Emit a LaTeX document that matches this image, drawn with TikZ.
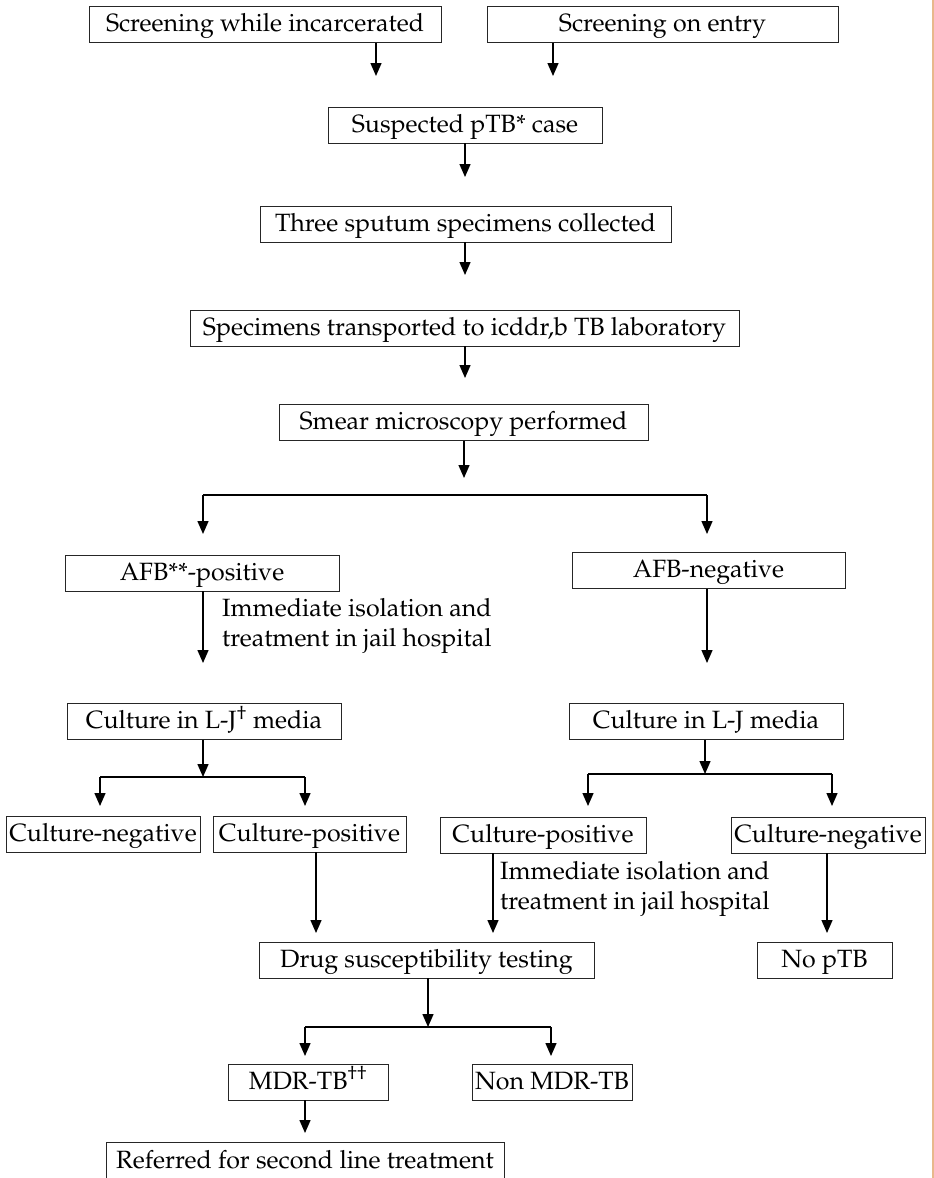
\documentclass[tikz,border=0pt]{standalone}
\usepackage[T1]{fontenc}
\usepackage{mathpazo}
\usetikzlibrary{arrows.meta}
\definecolor{edge}{RGB}{232,184,140}
\begin{document}
\begin{tikzpicture}[x=1pt,y=-1pt,
  box/.style={draw=black!85, line width=0.9pt, inner sep=0pt, minimum height=36pt, text height=18pt, text depth=4pt, font=\fontsize{25}{30}\selectfont},
  arr/.style={line width=1.4pt, -{Triangle[width=11pt,length=13pt]}},
  ln/.style={line width=1.4pt},
  lbl/.style={align=left, anchor=west, inner sep=0pt, font=\fontsize{25}{30}\selectfont}]
\useasboundingbox (0,0) rectangle (934,1178);
\fill[white] (0,0) rectangle (934,1178);
\draw[edge, line width=1.5pt] (933,0) -- (933,1178);

% nodes
\node[box, minimum width=352pt] (inc) at (265,24.5) {Screening while incarcerated};
\node[box, minimum width=351pt] (entry) at (662.5,24.5) {Screening on entry};
\node[box, minimum width=274pt] (susp) at (465,125) {Suspected pTB* case};
\node[box, minimum width=411pt] (three) at (465.5,224) {Three sputum specimens collected};
\node[box, minimum width=549pt] (spec) at (464.5,328) {Specimens transported to icddr,b TB laboratory};
\node[box, minimum width=369pt] (smear) at (463.5,422.5) {Smear microscopy performed};
\node[box, minimum width=274pt] (afbpos) at (202,573) {AFB**-positive};
\node[box, minimum width=273pt] (afbneg) at (708.5,570.5) {AFB-negative};
\node[box, minimum width=274pt] (culL) at (204,721.5) {Culture in L-J\textsuperscript{\textdagger} media};
\node[box, minimum width=274pt] (culR) at (706,721.5) {Culture in L-J media};
\node[box, minimum width=194pt] (cnegL) at (103,834) {Culture-negative};
\node[box, minimum width=193pt] (cposL) at (309.5,834) {Culture-positive};
\node[box, minimum width=206pt] (cposR) at (543,835) {Culture-positive};
\node[box, minimum width=194pt] (cnegR) at (828,835) {Culture-negative};
\node[box, minimum width=335pt] (dst) at (426.5,960) {Drug susceptibility testing};
\node[box, minimum width=135pt] (nop) at (824.5,960) {No pTB};
\node[box, minimum width=160pt] (mdr) at (308,1082) {MDR-TB\textsuperscript{\textdagger\textdagger}};
\node[box, minimum width=160pt] (nonmdr) at (552,1082) {Non MDR-TB};
\node[box, minimum width=398pt, minimum height=38pt] (ref) at (305,1161) {Referred for second line treatment};

\node[lbl] (iso1) at (222,626) {Immediate isolation and\\treatment in jail hospital};
\node[lbl] (iso2) at (500,889) {Immediate isolation and\\treatment in jail hospital};

% coordinates (free ends)
\coordinate (t1) at (376,76);
\coordinate (t2) at (553,76);
\coordinate (t3) at (465,177);
\coordinate (t4) at (465,275);
\coordinate (t5) at (465,378);
\coordinate (t6) at (464,478);
\coordinate (bL) at (203,495);
\coordinate (bR) at (707,495);
\coordinate (bLt) at (203,534);
\coordinate (bRt) at (707,534);
\coordinate (t7) at (203,663);
\coordinate (t8) at (707,663);
\coordinate (cL) at (203,777);
\coordinate (cLl) at (100,777);
\coordinate (cLr) at (305,777);
\coordinate (cLlt) at (100,806);
\coordinate (cLrt) at (305,806);
\coordinate (cR) at (705,774);
\coordinate (cRl) at (588,774);
\coordinate (cRr) at (832,774);
\coordinate (cRlt) at (588,806);
\coordinate (cRrt) at (832,806);
\coordinate (t9) at (316,933);
\coordinate (t10) at (493,933);
\coordinate (t11) at (827,933);
\coordinate (d) at (428,1027);
\coordinate (dl) at (305,1027);
\coordinate (dr) at (551,1027);
\coordinate (dlt) at (305,1056);
\coordinate (drt) at (551,1056);
\coordinate (t12) at (305,1133);

% connectors
\draw[arr] (inc.south -| t1) -- (t1);
\draw[arr] (entry.south -| t2) -- (t2);
\draw[arr] (susp.south -| t3) -- (t3);
\draw[arr] (three.south -| t4) -- (t4);
\draw[arr] (spec.south -| t5) -- (t5);
\draw[arr] (smear.south -| t6) -- (t6);
\draw[ln] (bL) -- (bR);
\draw[arr] (bL) -- (bLt);
\draw[arr] (bR) -- (bRt);
\draw[arr] (afbpos.south -| t7) -- (t7);
\draw[arr] (afbneg.south -| t8) -- (t8);
\draw[arr] (culL.south -| cL) -- (cL);
\draw[ln] (cLl) -- (cLr);
\draw[arr] (cLl) -- (cLlt);
\draw[arr] (cLr) -- (cLrt);
\draw[arr] (culR.south -| cR) -- (cR);
\draw[ln] (cRl) -- (cRr);
\draw[arr] (cRl) -- (cRlt);
\draw[arr] (cRr) -- (cRrt);
\draw[arr] (cposL.south -| t9) -- (t9);
\draw[arr] (cposR.south -| t10) -- (t10);
\draw[arr] (cnegR.south -| t11) -- (t11);
\draw[arr] (dst.south -| d) -- (d);
\draw[ln] (dl) -- (dr);
\draw[arr] (dl) -- (dlt);
\draw[arr] (dr) -- (drt);
\draw[arr] (mdr.south -| t12) -- (t12);
\end{tikzpicture}
\end{document}
